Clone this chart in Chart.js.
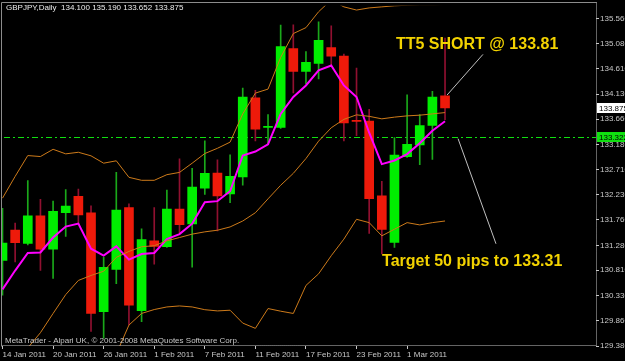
<!DOCTYPE html>
<html>
<head>
<meta charset="utf-8">
<script src="https://cdn.jsdelivr.net/npm/chart.js@4.4.1/dist/chart.umd.min.js"></script>
<style>
  html, body { margin: 0; padding: 0; background: #000; }
  #wrap { width: 625px; height: 361px; }
</style>
</head>
<body>
<div id="wrap"><canvas id="c" width="625" height="361"></canvas></div>
<script>
const dates = ['14 Jan 2011','17 Jan 2011','18 Jan 2011','19 Jan 2011','20 Jan 2011','21 Jan 2011',
  '24 Jan 2011','25 Jan 2011','26 Jan 2011','27 Jan 2011','28 Jan 2011','31 Jan 2011',
  '1 Feb 2011','2 Feb 2011','3 Feb 2011','4 Feb 2011','7 Feb 2011','8 Feb 2011','9 Feb 2011',
  '10 Feb 2011','11 Feb 2011','14 Feb 2011','15 Feb 2011','16 Feb 2011','17 Feb 2011','18 Feb 2011',
  '21 Feb 2011','22 Feb 2011','23 Feb 2011','24 Feb 2011','25 Feb 2011','28 Feb 2011',
  '1 Mar 2011','2 Mar 2011','3 Mar 2011','4 Mar 2011'];

const opens  = [130.994,131.567,131.317,131.835,131.205,131.896,132.203,131.891,130.027,130.825,131.990,130.046,
  131.367,131.255,131.966,131.685,132.358,132.644,132.252,132.569,134.065,133.505,133.504,134.994,134.564,134.713,
  135.012,134.850,133.630,133.624,132.214,131.336,132.951,133.175,133.541,134.100];
const highs  = [131.980,131.698,132.502,132.147,132.115,132.334,132.340,132.027,131.055,132.657,132.065,131.592,
  131.990,132.321,132.913,132.732,133.250,132.895,132.988,134.246,134.203,133.747,135.437,135.442,134.938,135.498,
  135.424,134.887,134.625,133.848,132.489,133.311,134.121,133.747,134.184,135.190];
const lows   = [130.340,130.969,131.287,130.807,130.657,131.448,131.680,129.653,129.530,130.558,129.779,129.840,
  130.924,131.242,131.517,130.868,132.240,131.554,132.083,132.414,133.250,133.186,133.485,134.158,134.326,134.420,
  134.676,133.250,133.349,131.504,131.119,131.242,132.938,132.801,132.900,133.652];
const closes = [131.324,131.330,131.835,131.205,131.923,132.022,131.853,129.997,130.863,131.947,130.152,131.386,
  131.261,131.966,131.672,132.377,132.639,132.214,132.582,134.078,133.474,133.515,135.031,134.564,134.732,135.149,
  134.850,133.592,133.620,132.158,131.579,132.981,133.186,133.541,134.078,133.875];

// média móvel (magenta)
const maLine = [130.448,130.804,131.135,131.146,131.427,131.633,131.689,131.216,131.085,131.260,131.010,131.116,
  131.135,131.397,131.491,131.689,132.095,132.114,132.301,132.975,133.049,133.186,133.760,134.079,134.297,134.584,
  134.672,134.297,134.079,133.405,132.812,132.881,133.002,133.205,133.442,133.620];

// bandas de Bollinger (laranja)
const bbUpper = [132.170,132.581,132.974,132.955,133.092,133.006,133.036,132.969,132.830,132.875,132.563,132.507,
  132.507,132.613,132.656,132.830,133.012,133.111,133.227,133.760,134.153,134.228,134.827,135.276,135.388,135.688,
  135.910,135.780,135.720,135.760,135.780,135.800,135.810,135.820,135.820,135.825];
const bbMiddle = [128.820,129.082,129.344,129.631,129.994,130.350,130.617,130.711,130.791,131.053,131.165,131.253,
  131.272,131.365,131.427,131.491,131.534,131.565,131.627,131.739,131.895,132.157,132.413,132.638,132.918,133.246,
  133.498,133.657,133.742,133.714,133.667,133.699,133.723,133.736,133.760,133.785];
const bbLower = [125.470,125.580,125.710,126.310,126.890,127.700,128.200,128.450,128.750,129.230,129.775,129.994,
  130.068,130.117,130.136,130.117,130.065,130.042,130.055,129.812,129.713,130.087,130.037,129.994,130.523,130.742,
  131.084,131.397,131.771,131.708,131.459,131.584,131.708,131.665,131.708,131.739];

const yTicks = [135.56,135.08,134.61,134.13,133.66,133.18,132.71,132.23,131.76,131.28,130.81,130.33,129.86,129.38];
const xTickIdx = [0,4,8,12,16,20,24,28,32];

const symbol = 'GBPJPY';
const period = 'Daily';
const targetLevel = 133.322;
const last = closes.length - 1;

const COR = {
  bg: '#000000',
  bull: '#00ee00',
  bear: '#ee1a0a',
  bullWick: '#1aa81a',
  bearWick: '#901030',
  ma: '#ff00ff',
  band: '#cc7a1a',
  frame: '#8c8c8c',
  axis: '#c8c8c8',
  gold: '#f2d200',
  pointer: '#c0c0c0',
  level: '#10e010',
};
const axisFont = { family: 'Liberation Sans, Arial, sans-serif', size: 8 };

const isBull = closes.map((c, i) => c >= opens[i]);
const pts = (arr) => arr.map((v, i) => ({ x: i, y: v }));

// anotações do trader, ancoradas em (índice da barra, preço)
const notas = [
  { text: 'TT5 SHORT @ 133.81', at: [31.12, 134.977] },
  { text: 'Target 50 pips to 133.31', at: [30.02, 130.897] },
];
const setas = [
  { from: [38.0, 134.883], to: [35.16, 134.116] },
  { from: [36.03, 133.293], to: [39.03, 131.309] },
];

const mt4Plugin = {
  id: 'mt4',
  beforeDraw(chart) {
    const { ctx } = chart;
    ctx.save();
    ctx.fillStyle = COR.bg;
    ctx.fillRect(0, 0, chart.width, chart.height);
    ctx.restore();
  },
  beforeDatasetsDraw(chart) {
    const { ctx, chartArea: a, scales: { y } } = chart;
    // linha do alvo (dash-dot verde)
    const py = Math.round(y.getPixelForValue(targetLevel)) + 0.5;
    ctx.save();
    ctx.strokeStyle = COR.level;
    ctx.lineWidth = 1;
    ctx.setLineDash([6, 3, 2, 3]);
    ctx.beginPath();
    ctx.moveTo(a.left + 2, py);
    ctx.lineTo(a.right, py);
    ctx.stroke();
    ctx.restore();
  },
  afterDraw(chart) {
    const { ctx, chartArea: a, scales: { x, y } } = chart;
    ctx.save();
    // moldura
    ctx.strokeStyle = COR.frame;
    ctx.lineWidth = 1;
    ctx.beginPath();
    ctx.moveTo(1.5, 346.5); ctx.lineTo(1.5, 2.5); ctx.lineTo(a.right + 0.5, 2.5);
    ctx.stroke();
    ctx.strokeStyle = COR.axis;
    ctx.setLineDash([1, 1]);
    ctx.beginPath();
    ctx.moveTo(a.right + 0.5, 2.5); ctx.lineTo(a.right + 0.5, a.bottom - 0.5);
    ctx.lineTo(1.5, a.bottom - 0.5);
    ctx.stroke();
    ctx.setLineDash([]);

    // textos do terminal
    ctx.font = `${axisFont.size}px ${axisFont.family}`;
    ctx.textBaseline = 'middle';
    ctx.textAlign = 'left';
    ctx.fillStyle = '#ececec';
    const fmt = (v) => v.toFixed(3);
    ctx.fillText(`${symbol},${period}  ${fmt(opens[last])} ${fmt(highs[last])} ${fmt(lows[last])} ${fmt(closes[last])}`, 6, 8);
    ctx.fillStyle = COR.axis;
    ctx.fillText('MetaTrader - Alpari UK, \u00a9 2001-2008 MetaQuotes Software Corp.', 5, 341);

    // etiquetas de preço no eixo
    const tag = (v, bg) => {
      const py = Math.round(y.getPixelForValue(v));
      ctx.fillStyle = bg;
      ctx.fillRect(a.right + 1, py - 5, 29, 10);
      ctx.fillStyle = '#000';
      ctx.fillText(fmt(v), a.right + 3, py + 0.5);
    };
    tag(closes[last], '#ffffff');
    tag(targetLevel, COR.level);

    // setas
    ctx.strokeStyle = COR.pointer;
    ctx.lineWidth = 1;
    for (const s of setas) {
      ctx.beginPath();
      ctx.moveTo(x.getPixelForValue(s.from[0]), y.getPixelForValue(s.from[1]));
      ctx.lineTo(x.getPixelForValue(s.to[0]), y.getPixelForValue(s.to[1]));
      ctx.stroke();
    }
    // anotações
    ctx.font = 'bold 16px Liberation Sans, Arial, sans-serif';
    ctx.textBaseline = 'alphabetic';
    ctx.fillStyle = COR.gold;
    for (const n of notas) {
      ctx.fillText(n.text, x.getPixelForValue(n.at[0]), y.getPixelForValue(n.at[1]));
    }
    ctx.restore();
  },
};

const lineDs = (label, data, color, width) => ({
  type: 'line', label, data: pts(data), borderColor: color, borderWidth: width,
  pointRadius: 0, tension: 0, clip: 0, order: 0,
});

new Chart(document.getElementById('c'), {
  type: 'bar',
  data: {
    datasets: [
      {
        label: 'wick',
        data: dates.map((_, i) => ({ x: i, y: [lows[i], highs[i]] })),
        backgroundColor: isBull.map(b => b ? COR.bullWick : COR.bearWick),
        barThickness: 1, grouped: false, borderWidth: 0, clip: 0, order: 3,
      },
      {
        label: 'body',
        data: dates.map((_, i) => ({ x: i, y: [opens[i], closes[i]] })),
        backgroundColor: isBull.map(b => b ? COR.bull : COR.bear),
        barThickness: 9, grouped: false, borderWidth: 0, minBarLength: 1, clip: 0, order: 2,
      },
      lineDs('BB upper', bbUpper, COR.band, 1),
      lineDs('BB middle', bbMiddle, COR.band, 1),
      lineDs('BB lower', bbLower, COR.band, 1),
      lineDs('MA', maLine, COR.ma, 2),
    ],
  },
  options: {
    responsive: false,
    animation: false,
    devicePixelRatio: 1,
    layout: { padding: { left: 2, top: 3, right: 0, bottom: 0 } },
    plugins: { legend: { display: false }, tooltip: { enabled: false } },
    scales: {
      x: {
        type: 'linear', position: 'bottom', min: -0.04, max: 46.94, offset: false,
        afterBuildTicks: (s) => { s.ticks = xTickIdx.map(v => ({ value: v })); },
        afterFit: (s) => { s.height = 15; },
        grid: { drawOnChartArea: false, drawTicks: true, tickLength: 3, color: COR.axis, offset: false },
        border: { display: false },
        ticks: {
          align: 'start', autoSkip: false, maxRotation: 0, padding: 1,
          color: COR.axis, font: axisFont,
          callback: (v) => dates[v] ?? '',
        },
      },
      y: {
        type: 'linear', position: 'right', min: 129.38, max: 135.8,
        afterBuildTicks: (s) => { s.ticks = yTicks.map(v => ({ value: v })); },
        afterFit: (s) => { s.width = 29; },
        grid: { drawOnChartArea: false, drawTicks: true, tickLength: 3, color: COR.axis },
        border: { display: false },
        ticks: {
          padding: 1, color: COR.axis, font: axisFont,
          callback: (v) => Number(v).toFixed(3),
        },
      },
    },
  },
  plugins: [mt4Plugin],
});
</script>
</body>
</html>
